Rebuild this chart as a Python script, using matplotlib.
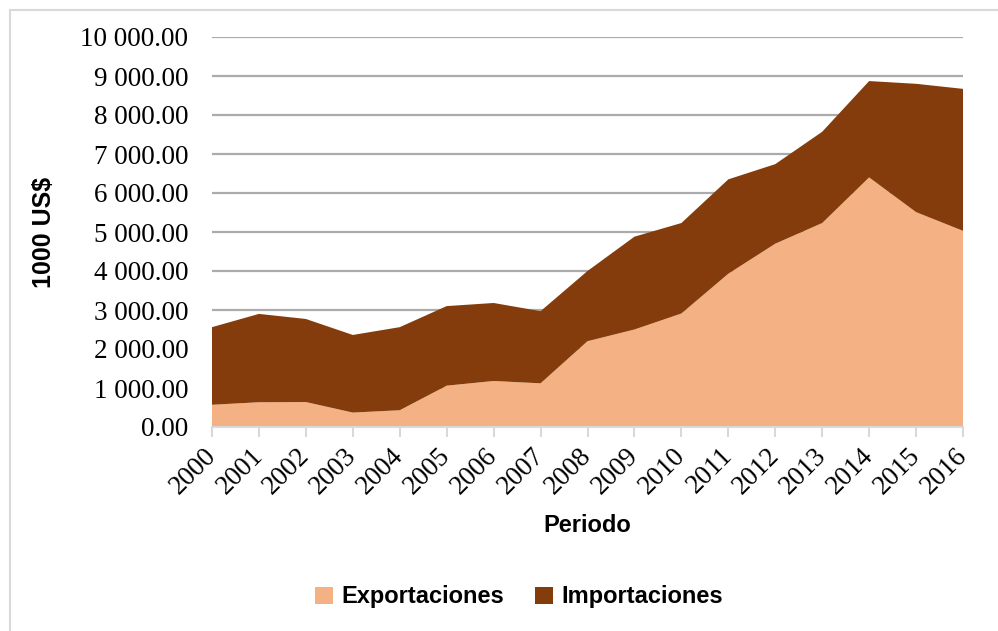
import matplotlib.pyplot as plt
from matplotlib.patches import Rectangle
from matplotlib.ticker import FuncFormatter
import numpy as np

# --- Data (1000 US$) ---
years = [2000, 2001, 2002, 2003, 2004, 2005, 2006, 2007, 2008,
         2009, 2010, 2011, 2012, 2013, 2014, 2015, 2016]
exportaciones = [570, 635, 640, 370, 430, 1060, 1180, 1120, 2200,
                 2500, 2910, 3930, 4700, 5230, 6400, 5510, 5030]
totales = [2560, 2900, 2770, 2360, 2560, 3100, 3180, 2970, 4000,
           4880, 5230, 6350, 6740, 7570, 8870, 8800, 8670]
importaciones = [t - e for t, e in zip(totales, exportaciones)]

series_labels = ["Exportaciones", "Importaciones"]
export_color = '#F4B183'
import_color = '#843C0C'

serif = ['Liberation Serif', 'DejaVu Serif']
sans = ['Liberation Sans', 'DejaVu Sans']

fig = plt.figure(figsize=(9.98, 6.31), dpi=100)
ax = fig.add_axes([212 / 998, 1 - 427 / 631, (963 - 212) / 998, (427 - 37) / 631])

# Chart border (only top/left edges fall inside the image)
fig.patches.append(Rectangle((10 / 998, -0.1), 1.2, 1.1 - 10 / 631,
                             transform=fig.transFigure, fill=False,
                             edgecolor='#D9D9D9', linewidth=1.5, zorder=0))

ax.stackplot(years, exportaciones, importaciones,
             colors=[export_color, import_color], labels=series_labels,
             linewidth=0, zorder=2)

ax.set_xlim(2000, 2016)
ax.set_ylim(0, 10000)
ax.set_yticks(np.arange(0, 10001, 1000))
ax.yaxis.set_major_formatter(FuncFormatter(lambda v, p: f"{v:,.2f}".replace(",", " ")))
ax.grid(axis='y', color='#ABABAB', linewidth=1.6, zorder=1)
ax.set_axisbelow(True)

ax.set_xticks(years)
ax.set_xticklabels([str(y) for y in years], rotation=45, ha='right', va='center',
                   rotation_mode='anchor', family=serif, fontsize=19.5)
for lbl in ax.get_yticklabels():
    lbl.set_family(serif)
    lbl.set_fontsize(19.5)

ax.tick_params(axis='y', length=0, pad=17, labelcolor='black')
ax.tick_params(axis='x', length=7, width=1.5, color='#D9D9D9', pad=11)

for side in ['top', 'right', 'left']:
    ax.spines[side].set_visible(False)
ax.spines['bottom'].set_color('#D9D9D9')
ax.spines['bottom'].set_linewidth(1.5)
ax.spines['bottom'].set_zorder(3)

ax.set_ylabel("1000 US$", family=sans, fontsize=18, fontweight='bold')
ax.yaxis.set_label_coords((56 - 212) / (963 - 212), 0.5)
ax.set_xlabel("Periodo", family=sans, fontsize=17, fontweight='bold', labelpad=11)

fig.legend(loc='center', bbox_to_anchor=(519 / 998, 1 - 597 / 631), ncol=2,
           frameon=False, prop={'family': sans, 'size': 17, 'weight': 'bold'},
           handlelength=0.75, handleheight=0.75, handletextpad=0.35, columnspacing=1.3)

fig.savefig('out.png', dpi=100)
